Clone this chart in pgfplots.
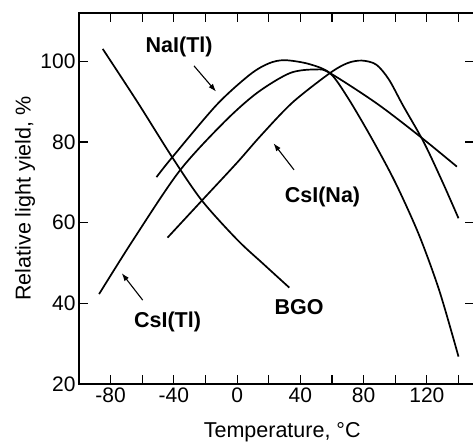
\documentclass[border=0pt]{standalone}
\usepackage{pgfplots}
\pgfplotsset{compat=1.18}
\usepackage{fontspec}
\setmainfont{Liberation Sans}
\usetikzlibrary{arrows.meta}
\tikzset{crv/.style={black, line width=1.7pt, smooth, mark=none}}
\begin{document}
\begin{tikzpicture}
\useasboundingbox (-79pt,-58pt) rectangle (394pt,384pt);
\begin{axis}[
  at={(0,0)}, anchor=south west,
  scale only axis, width=395.3pt, height=371pt,
  xmin=-100, xmax=150, ymin=20, ymax=112,
  xtick={-80,-40,...,120}, minor xtick={-60,-20,...,140},
  ytick={20,40,...,100},
  tick align=inside, major tick length=9pt, minor tick length=9pt,
  tick style={line width=1.2pt, black},
  axis line style={line width=1.5pt},
  /pgf/number format/assume math mode=true,
  ticklabel style={font=\fontsize{21}{25}\selectfont},
  label style={font=\fontsize{21.5}{25}\selectfont},
  xlabel={Temperature, °C},
  ylabel={Relative light yield, \%},
  xlabel style={at={(axis description cs:0.514,-0.129)}, anchor=center},
  ylabel style={at={(axis description cs:-0.1366,0.5)}, anchor=center},
  clip=false,
]
% BGO
\addplot[crv] coordinates {(-85,103.1) (-63,89.9) (-41.5,76.5) (-22.5,65.6) (0,55.8) (16.5,49.8) (33,43.9)};
% NaI(Tl)
\addplot[crv] coordinates {(-51,71.3) (-41.5,76.0) (-13,89.2) (8,96.7) (20,99.5) (30,100.3) (45,99.4) (58.7,97.1) (70,91) (85,81) (100,70) (115,57) (128,43) (140,26.8)};
% CsI(Tl)
\addplot[crv] coordinates {(-87.3,42.3) (-65.8,55.7) (-36.7,72.7) (-8.8,84.7) (12.3,92.1) (33.4,97.1) (50,98) (58.7,97.1) (88.2,89.6) (115.6,81.4) (139,73.9)};
% CsI(Na)
\addplot[crv] coordinates {(-44,56.3) (-22.5,65.4) (0,74.9) (15,81.6) (35,89.8) (58.7,97.1) (70,99.6) (79,100.2) (88,99.2) (96,95.5) (105,89) (118,80) (130,70) (140,61.1)};

\node[font=\fontsize{21.5}{25}\selectfont\bfseries] at (axis cs:-36.7,103.6) {NaI(Tl)};
\node[font=\fontsize{21.5}{25}\selectfont\bfseries] at (axis cs:54,66.4) {CsI(Na)};
\node[font=\fontsize{21.5}{25}\selectfont\bfseries] at (axis cs:-44,35.4) {CsI(Tl)};
\node[font=\fontsize{21.5}{25}\selectfont\bfseries] at (axis cs:39.2,39) {BGO};
\draw[-{Latex[length=8pt,width=5.5pt]}, line width=1.1pt] (axis cs:-27.3,98.9) -- (axis cs:-13.3,92.5);
\draw[-{Latex[length=8pt,width=5.5pt]}, line width=1.1pt] (axis cs:36,73.1) -- (axis cs:23,79.7);
\draw[-{Latex[length=8pt,width=5.5pt]}, line width=1.1pt] (axis cs:-59.7,40.8) -- (axis cs:-73,47.5);
\end{axis}
\end{tikzpicture}
\end{document}
